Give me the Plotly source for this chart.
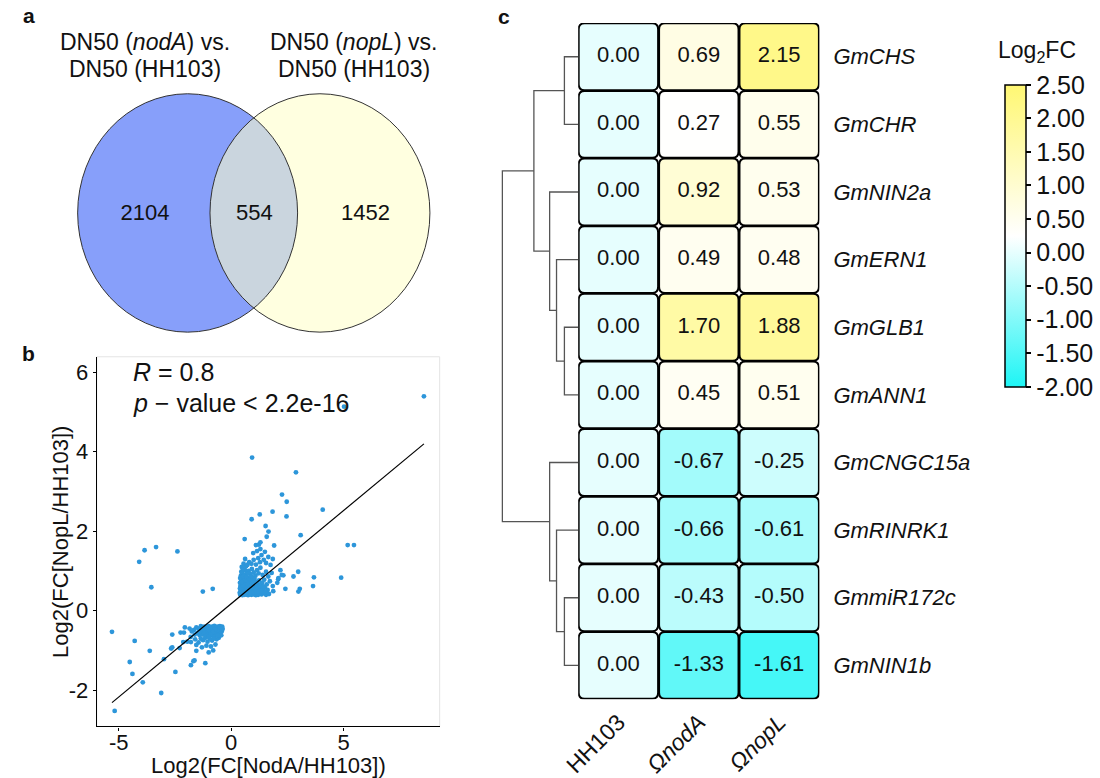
import plotly.graph_objects as go
from plotly.colors import sample_colorscale

# ---------------- data ----------------
# Venn (panel a)
venn_left_title = ["DN50 (<i>nodA</i>) vs.", "DN50 (HH103)"]
venn_right_title = ["DN50 (<i>nopL</i>) vs.", "DN50 (HH103)"]
venn_counts = [2104, 554, 1452]          # nodA only, shared, nopL only

# Scatter (panel b): (log2FC nodA, log2FC nopL)
outlier_pts = [
    (8.57, 5.39), (5.02, 5.13), (0.93, 3.85), (2.88, 3.48), (2.26, 2.92), (2.47, 2.74),
    (4.07, 2.54), (1.84, 2.49), (1.27, 2.42), (2.46, 2.37), (0.91, 2.30), (1.53, 2.13),
    (1.66, 1.99), (1.58, 1.86), (3.09, 1.90), (0.60, 1.80), (5.18, 1.65), (5.46, 1.65),
    (1.23, 1.66), (1.91, 1.64), (-3.85, 1.52), (-3.34, 1.60), (-2.39, 1.49), (-4.09, 1.23),
    (-3.55, 0.59), (-1.26, 0.48), (-0.82, 0.55), (4.89, 0.83), (3.68, 0.84), (3.64, 0.62),
    (2.98, 0.98), (2.77, 0.86), (3.05, 0.55), (2.99, 0.48), (2.41, 0.55), (1.87, 0.49),
    (2.32, 0.89), (2.19, 1.02), (2.09, 0.79),
    (-5.30, -0.53), (-4.29, -0.76), (-3.62, -1.01), (-4.51, -1.29), (-4.39, -1.59),
    (-3.93, -1.80), (-5.18, -2.52), (-3.11, -2.07), (-2.48, -1.54), (-2.99, -1.22),
    (-2.67, -0.95), (-2.62, -0.92), (-2.62, -0.60), (-2.25, -0.55), (-2.29, -0.94),
    (-2.06, -0.42), (-2.13, -0.79), (-1.79, -1.37), (-1.68, -1.27), (-1.63, -1.25),
    (-1.15, -1.32), (-1.55, -1.01), (-1.79, -0.79),
]
upper_cluster_pts = [
    (0.40, 0.40), (0.45, 0.42), (0.50, 0.39), (0.55, 0.44), (0.60, 0.40), (0.65, 0.46),
    (0.70, 0.41), (0.75, 0.39), (0.80, 0.45), (0.85, 0.42), (0.90, 0.40), (0.95, 0.47),
    (1.00, 0.41), (1.05, 0.44), (1.10, 0.39), (1.15, 0.43), (1.20, 0.40), (1.28, 0.45),
    (1.35, 0.41), (1.45, 0.44), (1.55, 0.40), (1.68, 0.42), (0.42, 0.50), (0.48, 0.55),
    (0.52, 0.48), (0.58, 0.53), (0.63, 0.51), (0.68, 0.56), (0.72, 0.49), (0.78, 0.54),
    (0.83, 0.50), (0.88, 0.57), (0.93, 0.52), (0.98, 0.55), (1.03, 0.50), (1.08, 0.58),
    (1.13, 0.52), (1.18, 0.56), (1.25, 0.51), (1.32, 0.57), (1.40, 0.53), (1.50, 0.58),
    (1.62, 0.52), (0.41, 0.62), (0.46, 0.66), (0.51, 0.60), (0.56, 0.70), (0.61, 0.64),
    (0.66, 0.68), (0.71, 0.61), (0.76, 0.72), (0.81, 0.65), (0.86, 0.70), (0.91, 0.63),
    (0.96, 0.75), (1.01, 0.67), (1.06, 0.62), (1.12, 0.72), (1.17, 0.66), (1.24, 0.76),
    (1.30, 0.64), (1.38, 0.70), (1.47, 0.78), (1.58, 0.66), (1.72, 0.74), (1.85, 0.62),
    (2.05, 0.70), (0.44, 0.78), (0.54, 0.80), (0.64, 0.76), (0.74, 0.82), (0.84, 0.79),
    (0.94, 0.84), (0.43, 0.88), (0.50, 0.95), (0.58, 0.90), (0.62, 1.02), (0.70, 0.93),
    (0.78, 1.00), (0.86, 0.92), (0.92, 1.05), (1.00, 0.96), (1.08, 0.88), (1.15, 1.02),
    (1.22, 0.94), (1.30, 1.08), (1.40, 0.90), (1.55, 0.98), (1.65, 0.86), (1.80, 0.95),
    (2.10, 0.82), (2.25, 0.90), (0.47, 1.10), (0.66, 1.12), (0.55, 1.18), (0.72, 1.15),
    (0.80, 1.22), (0.90, 1.18), (1.00, 1.28), (1.10, 1.16), (1.20, 1.32), (1.28, 1.22),
    (1.35, 1.40), (1.45, 1.28), (1.55, 1.20), (1.65, 1.35), (1.75, 1.15), (1.85, 1.30),
    (0.62, 1.30), (0.98, 1.45), (1.15, 1.50), (1.30, 1.55), (1.50, 1.48), (1.10, 1.65),
    (1.30, 1.72),
    (0.38, 0.45), (0.39, 0.56), (0.39, 0.70), (0.40, 0.82), (0.47, 0.72), (0.53, 0.86),
    (0.57, 0.62), (0.62, 0.43), (0.67, 0.60), (0.73, 0.66), (0.77, 0.47), (0.82, 0.58),
    (0.87, 0.46), (0.92, 0.69), (0.97, 0.60), (1.02, 0.47), (1.07, 0.52), (1.12, 0.46),
    (1.16, 0.60), (1.22, 0.48), (1.27, 0.62), (1.33, 0.49), (1.42, 0.61), (1.52, 0.47),
    (0.45, 0.98), (0.52, 1.05), (0.68, 0.86), (0.75, 0.94), (0.88, 0.86), (1.04, 0.80),
]
lower_cluster_pts = [
    (-0.40, -0.40), (-0.45, -0.44), (-0.50, -0.39), (-0.55, -0.43), (-0.60, -0.40),
    (-0.65, -0.46), (-0.70, -0.41), (-0.75, -0.38), (-0.80, -0.44), (-0.85, -0.40),
    (-0.90, -0.47), (-0.95, -0.42), (-1.00, -0.39), (-1.05, -0.45), (-1.10, -0.41),
    (-1.15, -0.47), (-1.20, -0.40), (-1.28, -0.44), (-1.35, -0.39), (-1.45, -0.45),
    (-1.55, -0.42), (-1.65, -0.48), (-0.42, -0.52), (-0.48, -0.58), (-0.53, -0.50),
    (-0.58, -0.55), (-0.63, -0.61), (-0.68, -0.53), (-0.73, -0.58), (-0.78, -0.51),
    (-0.83, -0.62), (-0.88, -0.56), (-0.93, -0.52), (-0.98, -0.60), (-1.03, -0.54),
    (-1.08, -0.63), (-1.13, -0.57), (-1.18, -0.51), (-1.25, -0.60), (-1.32, -0.54),
    (-1.40, -0.62), (-1.50, -0.56), (-1.62, -0.60), (-1.75, -0.52), (-0.55, -0.68),
    (-0.65, -0.72), (-0.75, -0.66), (-0.85, -0.75), (-0.95, -0.70), (-1.05, -0.78),
    (-1.15, -0.68), (-1.25, -0.74), (-1.35, -0.70), (-1.45, -0.80), (-1.60, -0.72),
    (-1.80, -0.66), (-0.70, -0.85), (-0.90, -0.90), (-1.10, -0.88), (-1.30, -0.92),
    (-1.55, -0.86), (-1.95, -0.78), (-0.80, -1.00), (-1.00, -1.05), (-2.10, -0.55),
    (-1.85, -0.45),
    (-0.38, -0.46), (-0.44, -0.62), (-0.52, -0.45), (-0.62, -0.50), (-0.72, -0.47),
    (-0.82, -0.54), (-0.92, -0.61), (-1.02, -0.48), (-1.12, -0.62), (-1.22, -0.55),
    (-1.30, -0.48), (-1.42, -0.53), (-0.60, -0.62), (-0.78, -0.70), (-1.00, -0.66),
]
fit_slope = 0.469
fit_intercept = 0.175
r_value = 0.8
p_text = "2.2e-16"
scatter_xticks = [-5, 0, 5]
scatter_yticks = [-2, 0, 2, 4, 6]
scatter_xlabel = "Log2(FC[NodA/HH103])"
scatter_ylabel = "Log2(FC[NopL/HH103])"

# Heatmap (panel c)
genes = ["GmCHS", "GmCHR", "GmNIN2a", "GmERN1", "GmGLB1", "GmANN1",
         "GmCNGC15a", "GmRINRK1", "GmmiR172c", "GmNIN1b"]
samples = ["HH103", "<i>ΩnodA</i>", "<i>ΩnopL</i>"]
fc_hh103 = [0.00, 0.00, 0.00, 0.00, 0.00, 0.00, 0.00, 0.00, 0.00, 0.00]
fc_noda = [0.69, 0.27, 0.92, 0.49, 1.70, 0.45, -0.67, -0.66, -0.43, -1.33]
fc_nopl = [2.15, 0.55, 0.53, 0.48, 1.88, 0.51, -0.25, -0.61, -0.50, -1.61]
# row dendrogram: (child a, child b, merge height); leaves 0..9, new nodes from 10
dendro_merges = [(0, 1, 14), (4, 5, 14), (3, 11, 22), (2, 12, 29), (10, 13, 45),
                 (8, 9, 14), (7, 15, 22), (6, 16, 29), (14, 17, 77)]
cbar_ticks = [-2.0, -1.5, -1.0, -0.5, 0.0, 0.5, 1.0, 1.5, 2.0, 2.5]
cmin, cmax = -2.0, 2.5

# ---------------- styling ----------------
W, H = 1100, 778
FONT = "Liberation Sans, Arial, sans-serif"
colorscale = [[0.0, "rgb(30,245,245)"], [0.5, "rgb(255,255,255)"], [1.0, "rgb(255,247,115)"]]
PT_COLOR = "rgb(45,150,218)"
TXT = "#111"


def px_x(p):
    return p / W


def px_y(p):
    return 1 - p / H


fig = go.Figure()

# ---------- panel b: scatter ----------
all_pts = outlier_pts + upper_cluster_pts + lower_cluster_pts
sx = [p[0] for p in all_pts]
sy = [p[1] for p in all_pts]
fig.add_trace(go.Scatter(x=sx, y=sy, mode="markers", xaxis="x", yaxis="y",
                         marker=dict(size=4.8, color=PT_COLOR, line=dict(width=0)),
                         showlegend=False, hoverinfo="x+y"))
lx = [min(sx), max(sx)]
ly = [fit_intercept + fit_slope * v for v in lx]
fig.add_trace(go.Scatter(x=lx, y=ly, mode="lines", xaxis="x", yaxis="y",
                         line=dict(color="black", width=1.2), showlegend=False, hoverinfo="skip"))

# ---------- panel c: heatmap ----------
columns = [fc_hh103, fc_noda, fc_nopl]
shapes = []
hx, hy, ht, hz = [], [], [], []
cw, ch = 245 / 3, 678 / 10
half = 0.494
rx, ry = 6 / cw, 6 / ch
for ci, col in enumerate(columns):
    for ri, v in enumerate(col):
        frac = (v - cmin) / (cmax - cmin)
        fill = sample_colorscale(colorscale, [frac])[0]
        x0, x1 = ci - half, ci + half
        y0, y1 = ri - half, ri + half
        path = (f"M {x0 + rx},{y0} L {x1 - rx},{y0} Q {x1},{y0} {x1},{y0 + ry} "
                f"L {x1},{y1 - ry} Q {x1},{y1} {x1 - rx},{y1} L {x0 + rx},{y1} "
                f"Q {x0},{y1} {x0},{y1 - ry} L {x0},{y0 + ry} Q {x0},{y0} {x0 + rx},{y0} Z")
        shapes.append(dict(type="path", path=path, xref="x2", yref="y2",
                           fillcolor=fill, line=dict(color="black", width=2), layer="below"))
        hx.append(ci)
        hy.append(ri)
        ht.append(f"{v:.2f}")
        hz.append(v)

fig.add_trace(go.Scatter(
    x=hx, y=hy, text=ht, mode="markers+text", xaxis="x2", yaxis="y2",
    textfont=dict(size=22, color=TXT, family=FONT), textposition="middle center",
    marker=dict(color=hz, colorscale=colorscale, cmin=cmin, cmax=cmax, size=2, opacity=0,
                showscale=True,
                colorbar=dict(x=px_x(1004), xanchor="left", y=px_y(85), yanchor="top",
                              thickness=21, thicknessmode="pixels",
                              len=(388 - 85) / H, lenmode="fraction",
                              outlinewidth=1.5, outlinecolor="black",
                              ticks="outside", ticklen=5, tickwidth=1.5, tickcolor="black",
                              tickvals=cbar_ticks, ticktext=[f"{t:.2f}" for t in cbar_ticks],
                              tickfont=dict(size=25, color=TXT, family=FONT),
                              xpad=0, ypad=0)),
    showlegend=False, hoverinfo="text"))

# dendrogram
pos = {i: float(i) for i in range(len(genes))}
hgt = {i: 0.0 for i in range(len(genes))}
dx, dy = [], []
for k, (a, b, h) in enumerate(dendro_merges):
    node = len(genes) + k
    dx += [hgt[a], h, h, hgt[b], None]
    dy += [pos[a], pos[a], pos[b], pos[b], None]
    pos[node] = (pos[a] + pos[b]) / 2
    hgt[node] = h
fig.add_trace(go.Scatter(x=dx, y=dy, mode="lines", xaxis="x3", yaxis="y3",
                         line=dict(color="#555", width=1.3), showlegend=False, hoverinfo="skip"))

# ---------- panel a: Venn ----------
lc, rc, cy, vrx, vry = 173.3, 307.7, 213.5, 111.7, 119.5
shapes += [
    dict(type="circle", xref="x4", yref="y4", x0=lc - vrx, x1=lc + vrx, y0=cy - vry, y1=cy + vry,
         fillcolor="rgb(135,159,250)", line=dict(width=0), layer="below"),
    dict(type="circle", xref="x4", yref="y4", x0=rc - vrx, x1=rc + vrx, y0=cy - vry, y1=cy + vry,
         fillcolor="rgb(255,255,200)", opacity=0.56, line=dict(width=0), layer="below"),
    dict(type="circle", xref="x4", yref="y4", x0=lc - vrx, x1=lc + vrx, y0=cy - vry, y1=cy + vry,
         fillcolor="rgba(0,0,0,0)", line=dict(width=1, color="#333"), layer="below"),
    dict(type="circle", xref="x4", yref="y4", x0=rc - vrx, x1=rc + vrx, y0=cy - vry, y1=cy + vry,
         fillcolor="rgba(0,0,0,0)", line=dict(width=1, color="#333"), layer="below"),
]
fig.add_trace(go.Scatter(x=[130, 241, 354], y=[215, 215, 215], text=[str(c) for c in venn_counts],
                         mode="text", xaxis="x4", yaxis="y4",
                         textfont=dict(size=22, color=TXT, family=FONT),
                         showlegend=False, hoverinfo="text"))

annotations = []


def ann(x, y, text, size, xanchor="center", yanchor="middle", xref="paper", yref="paper", **kw):
    annotations.append(dict(x=x, y=y, xref=xref, yref=yref, text=text, showarrow=False,
                            xanchor=xanchor, yanchor=yanchor,
                            font=dict(size=size, color=TXT, family=FONT), **kw))


for i, line in enumerate(venn_left_title):
    ann(130, 42 + 27.5 * i, line, 23, xref="x4", yref="y4")
for i, line in enumerate(venn_right_title):
    ann(342, 42 + 27.5 * i, line, 23, xref="x4", yref="y4")

# panel letters
for letter, x, y in [("a", 12, 16), ("b", 12, 354), ("c", 495, 17)]:
    ann(px_x(x), px_y(y), f"<b>{letter}</b>", 21)

# scatter stats
ann(px_x(116), px_y(373), f"<i>R</i> = {r_value}", 25, xanchor="left")
ann(px_x(116), px_y(404), f"<i>p</i> \u2212 value < {p_text}", 25, xanchor="left")
# scatter axis titles
ann(px_x(255), px_y(767), scatter_xlabel, 22)
ann(px_x(44), px_y(543), scatter_ylabel, 22, textangle=-90)
# colorbar title
ann(px_x(1036), px_y(52), "Log<sub>2</sub>FC", 23)

# scatter panel border (light)
SX0, SX1, SY0, SY1 = 81, 429.3, 357.7, 728.3
shapes.append(dict(type="rect", xref="paper", yref="paper", x0=px_x(SX0), x1=px_x(SX1),
                   y0=px_y(SY1), y1=px_y(SY0), line=dict(color="#e4e4e4", width=1),
                   fillcolor="rgba(0,0,0,0)", layer="below"))

axis_font = dict(size=22, color=TXT, family=FONT)
fig.update_layout(
    width=W, height=H, margin=dict(l=0, r=0, t=0, b=0),
    paper_bgcolor="white", plot_bgcolor="white",
    font=dict(family=FONT, color=TXT),
    shapes=shapes, annotations=annotations,
    xaxis=dict(domain=[px_x(SX0), px_x(SX1)], range=[-5.977, 9.27], anchor="y",
               showgrid=False, zeroline=False, showline=True, linecolor="black", linewidth=1.2,
               ticks="outside", ticklen=3, tickcolor="black", ticklabelstandoff=-7,
               tickvals=scatter_xticks, ticktext=[str(t) for t in scatter_xticks],
               tickfont=axis_font),
    yaxis=dict(domain=[px_y(SY1), px_y(SY0)], range=[-2.91, 6.385], anchor="x",
               showgrid=False, zeroline=False, showline=True, linecolor="black", linewidth=1.2,
               ticks="outside", ticklen=3, tickcolor="black",
               tickvals=scatter_yticks, ticktext=[str(t) for t in scatter_yticks],
               tickfont=axis_font),
    xaxis2=dict(domain=[px_x(570), px_x(815)], range=[-0.5, 2.5], anchor="y2",
                showgrid=False, zeroline=False, showline=False, ticks="",
                tickvals=[0, 1, 2], ticktext=samples, tickangle=-45,
                tickfont=dict(size=23, color=TXT, family=FONT), ticklabelstandoff=4),
    yaxis2=dict(domain=[px_y(701), px_y(23)], range=[9.5, -0.5], anchor="x2", side="right",
                showgrid=False, zeroline=False, showline=False, ticks="",
                tickvals=list(range(len(genes))), ticktext=[f"<i>{g}</i>" for g in genes],
                tickfont=dict(size=22, color=TXT, family=FONT), ticklabelstandoff=13),
    xaxis3=dict(domain=[px_x(488), px_x(570)], range=[82, 0], anchor="y3", visible=False),
    yaxis3=dict(domain=[px_y(701), px_y(23)], range=[9.5, -0.5], anchor="x3", visible=False),
    xaxis4=dict(domain=[0, px_x(470)], range=[0, 470], anchor="y4", visible=False),
    yaxis4=dict(domain=[px_y(350), 1], range=[350, 0], anchor="x4", visible=False),
)

fig.write_html("out.html", config={"displayModeBar": False},
               post_script="document.body.style.margin='0';")
